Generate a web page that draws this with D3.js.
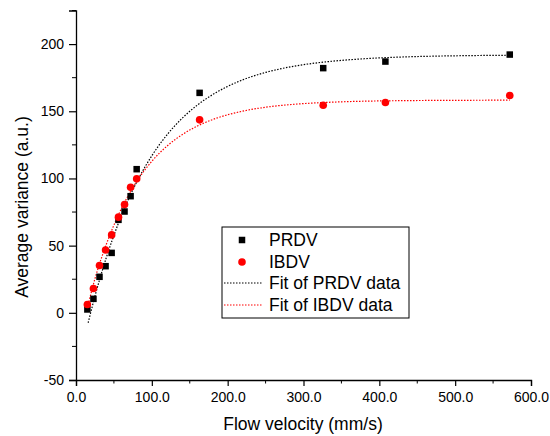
<!DOCTYPE html>
<html>
<head>
<meta charset="utf-8">
<script src="https://cdn.jsdelivr.net/npm/d3@7"></script>
<style>
  body { margin: 0; background: #fff; }
  svg { display: block; font-family: "Liberation Sans", Arial, sans-serif; }
</style>
</head>
<body>
<div id="chart"></div>
<script>
// measured data (flow velocity in mm/s)
const flowVelocity = [15, 23, 31, 39, 47, 56, 64, 72, 80, 163, 326, 408, 572];
const prdvValues = [2.5, 10.4, 26.8, 34.7, 44.6, 69.2, 75.4, 86.8, 106.9, 163.7, 182.1, 187.0, 192.2];
const ibdvValues = [6.2, 18.1, 35.2, 46.7, 58.0, 71.2, 80.6, 93.5, 99.7, 143.6, 154.5, 156.5, 161.7];

// fit curves
const fitX = [16, 25, 40, 55, 70, 85, 100, 120, 140, 160, 185, 215, 250, 290, 330, 380, 430, 480, 530, 572];
const prdvFit = [-7.4, 12.4, 41.1, 65.3, 85.6, 102.6, 116.9, 132.5, 144.8, 154.6, 164.0, 172.3, 178.9, 183.8, 186.8, 189.1, 190.4, 191.1, 191.5, 191.7];
const ibdvFit = [6.0, 25.4, 51.0, 71.7, 88.4, 101.9, 112.8, 124.1, 132.6, 139.0, 144.8, 149.5, 153.0, 155.3, 156.6, 157.5, 157.9, 158.1, 158.2, 158.3];

const xTicks = [0, 100, 200, 300, 400, 500, 600];
const xMinor = [50, 150, 250, 350, 450, 550];
const yTicks = [-50, 0, 50, 100, 150, 200];
const yMinor = [-25, 25, 75, 125, 175, 225];

const legendItems = ["PRDV", "IBDV", "Fit of PRDV data", "Fit of IBDV data"];

const W = 550, H = 436;
const x = d3.scaleLinear().domain([0, 600]).range([76, 531]);
const y = d3.scaleLinear().domain([-50, 225]).range([380, 10.5]);

const svg = d3.select("#chart").append("svg")
    .attr("width", W)
    .attr("height", H);

// x axis
const xAxis = svg.append("g")
    .attr("transform", `translate(0,${y(-50)})`)
    .call(d3.axisBottom(x).tickValues(xTicks).tickFormat(d => d.toFixed(1)).tickSize(6).tickPadding(6));
xAxis.append("g").selectAll("line")
    .data(xMinor)
    .enter().append("line")
    .attr("x1", d => x(d)).attr("x2", d => x(d))
    .attr("y1", 0).attr("y2", 3.5)
    .attr("stroke", "#000");

// y axis (plain hyphen for negatives, like the original)
const yAxis = svg.append("g")
    .attr("transform", `translate(${x(0)},0)`)
    .call(d3.axisLeft(y).tickValues(yTicks).tickFormat(d => String(d)).tickSize(7).tickPadding(5));
yAxis.append("g").selectAll("line")
    .data(yMinor)
    .enter().append("line")
    .attr("y1", d => y(d)).attr("y2", d => y(d))
    .attr("x1", 0).attr("x2", -4)
    .attr("stroke", "#000");

svg.selectAll(".domain").attr("stroke", "#000").attr("stroke-width", 1.3);
svg.selectAll(".tick line").attr("stroke", "#000").attr("stroke-width", 1.2);
svg.selectAll(".tick text")
    .style("font-size", "14px")
    .style("font-family", "'Liberation Sans', Arial, sans-serif")
    .attr("fill", "#000");

// axis titles
svg.append("text")
    .attr("x", 303)
    .attr("y", 430)
    .attr("text-anchor", "middle")
    .style("font-size", "17.5px")
    .text("Flow velocity (mm/s)");

svg.append("text")
    .attr("transform", "translate(28,207) rotate(-90)")
    .attr("text-anchor", "middle")
    .style("font-size", "17.5px")
    .text("Average variance (a.u.)");

// fit curves
const fitLine = d3.line()
    .x(d => x(d[0]))
    .y(d => y(d[1]))
    .curve(d3.curveMonotoneX);

svg.append("path")
    .datum(fitX.map((v, i) => [v, prdvFit[i]]))
    .attr("d", fitLine)
    .attr("fill", "none")
    .attr("stroke", "#000")
    .attr("stroke-width", 1.2)
    .attr("stroke-dasharray", "1.5,1.5");

svg.append("path")
    .datum(fitX.map((v, i) => [v, ibdvFit[i]]))
    .attr("d", fitLine)
    .attr("fill", "none")
    .attr("stroke", "#ff0000")
    .attr("stroke-width", 1.2)
    .attr("stroke-dasharray", "1.5,1.5");

// data points
const sq = 6.5;
svg.append("g").selectAll("rect")
    .data(flowVelocity.map((v, i) => [v, prdvValues[i]]))
    .enter().append("rect")
    .attr("x", d => x(d[0]) - sq / 2)
    .attr("y", d => y(d[1]) - sq / 2)
    .attr("width", sq)
    .attr("height", sq)
    .attr("fill", "#000");

svg.append("g").selectAll("circle")
    .data(flowVelocity.map((v, i) => [v, ibdvValues[i]]))
    .enter().append("circle")
    .attr("cx", d => x(d[0]))
    .attr("cy", d => y(d[1]))
    .attr("r", 3.8)
    .attr("fill", "#ff0000");

// legend
const legend = svg.append("g").attr("transform", "translate(222,227)");
legend.append("rect")
    .attr("width", 187)
    .attr("height", 91)
    .attr("fill", "#fff")
    .attr("stroke", "#000")
    .attr("stroke-width", 1);

const rowY = [13, 35, 56, 78];
legend.append("rect")
    .attr("x", 20 - sq / 2).attr("y", rowY[0] - sq / 2)
    .attr("width", sq).attr("height", sq)
    .attr("fill", "#000");
legend.append("circle")
    .attr("cx", 20).attr("cy", rowY[1])
    .attr("r", 3.8)
    .attr("fill", "#ff0000");
legend.append("line")
    .attr("x1", 2).attr("x2", 40)
    .attr("y1", rowY[2]).attr("y2", rowY[2])
    .attr("stroke", "#000").attr("stroke-width", 1.2).attr("stroke-dasharray", "1.5,1.5");
legend.append("line")
    .attr("x1", 2).attr("x2", 40)
    .attr("y1", rowY[3]).attr("y2", rowY[3])
    .attr("stroke", "#ff0000").attr("stroke-width", 1.2).attr("stroke-dasharray", "1.5,1.5");

legend.selectAll(".label")
    .data(legendItems)
    .enter().append("text")
    .attr("class", "label")
    .attr("x", 47)
    .attr("y", (d, i) => rowY[i] + 6)
    .style("font-size", "17.5px")
    .text(d => d);
</script>
</body>
</html>
